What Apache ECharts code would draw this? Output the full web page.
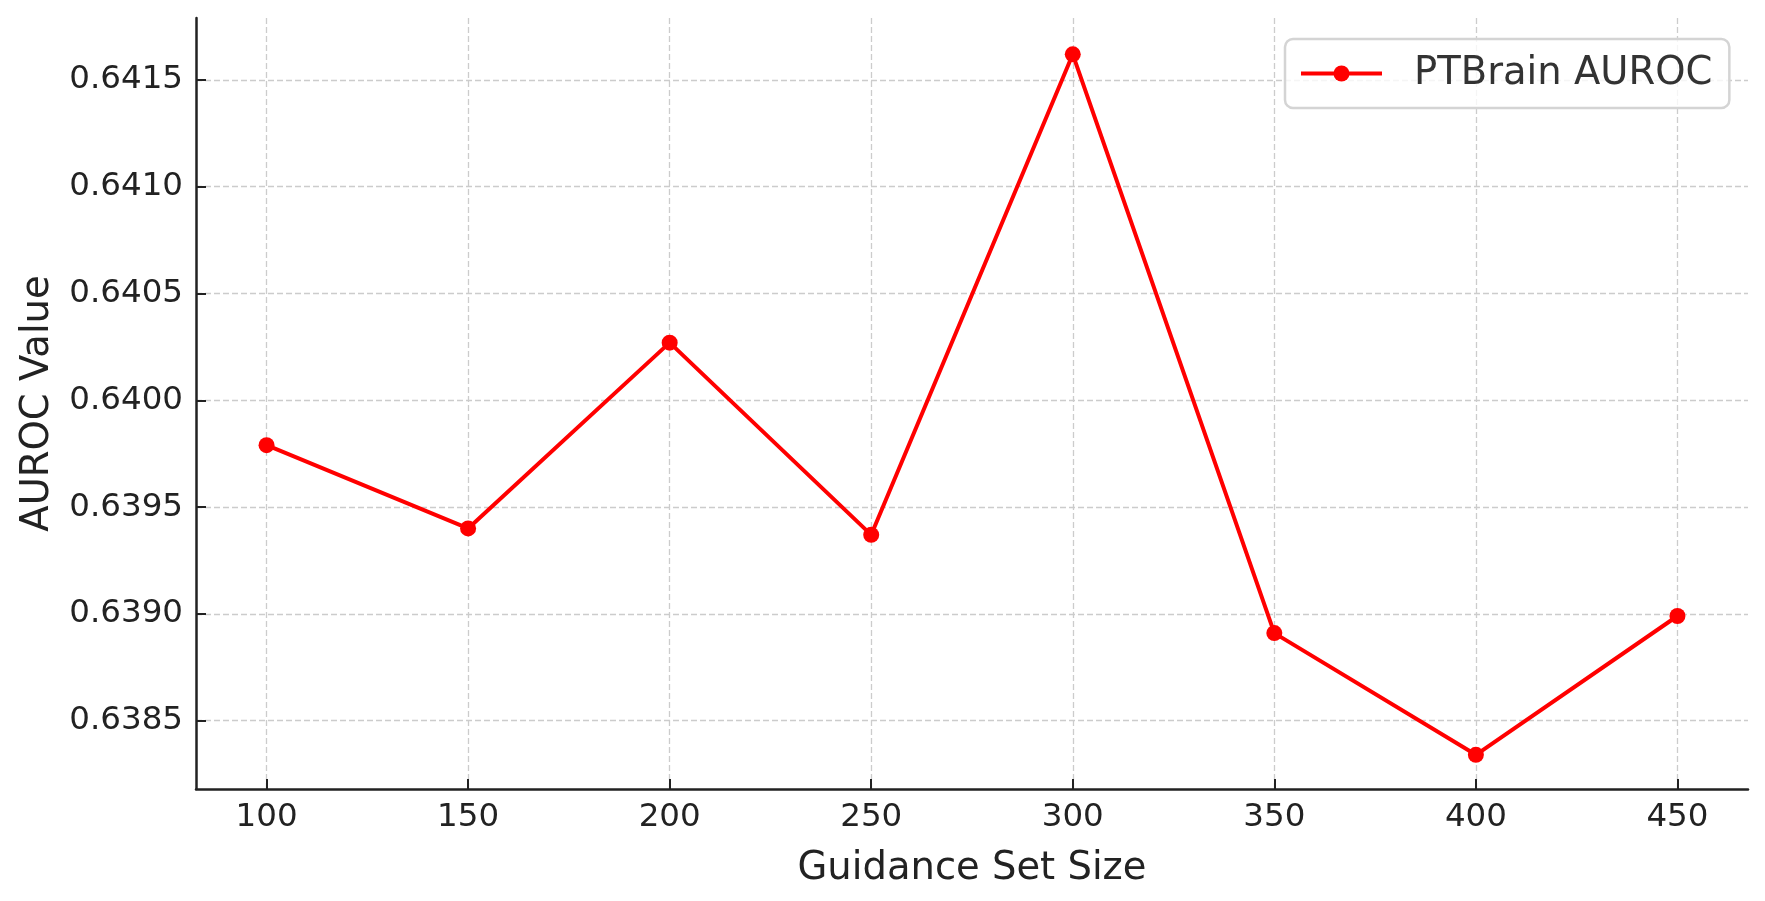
<!DOCTYPE html>
<html>
  <head>
    <meta charset="utf-8" />
    <title>PTBrain AUROC</title>
    <script src="https://cdn.jsdelivr.net/npm/echarts@6.0.0/dist/echarts.min.js"></script>
  </head>
  <body style="margin: 0">
    <div id="main" style="width: 1765px; height: 901px"></div>
    <script type="text/javascript">
      var myChart = echarts.init(document.getElementById("main"));

      // data
      var guidanceSizes = [100, 150, 200, 250, 300, 350, 400, 450];
      var aurocValues = [0.63979, 0.63940, 0.64027, 0.63937, 0.64162, 0.63891, 0.63834, 0.63899];
      var xTicks = [100, 150, 200, 250, 300, 350, 400, 450];
      var yTicks = [0.6385, 0.639, 0.6395, 0.64, 0.6405, 0.641, 0.6415];

      var font = "DejaVu Sans";
      var gridLine = { show: true, lineStyle: { color: "#cccccc", width: 1.3, type: [6, 3] } };

      var option = {
        animation: false,
        grid: { left: 196, right: 17, top: 18, bottom: 112 },
        legend: {
          data: ["PTBrain AUROC"],
          left: 1285,
          top: 39,
          padding: [14, 17, 14, 14],
          backgroundColor: "rgba(255,255,255,0.8)",
          borderColor: "#d4d4d4",
          borderWidth: 2.5,
          borderRadius: 8,
          itemWidth: 81,
          itemHeight: 20,
          lineStyle: { width: 4 },
          textStyle: { fontFamily: font, fontSize: 38.5, color: "#333", lineHeight: 41, padding: [0, 0, 0, 27] }
        },
        xAxis: {
          type: "value",
          min: 82.5,
          max: 467.5,
          name: "Guidance Set Size",
          nameLocation: "middle",
          nameGap: 60,
          nameTextStyle: { fontFamily: font, fontSize: 38.5, color: "#222" },
          axisLine: { lineStyle: { color: "#222", width: 2.5 } },
          axisTick: { inside: true, length: 10, customValues: xTicks, lineStyle: { color: "#222", width: 2 } },
          axisLabel: { customValues: xTicks, fontFamily: font, fontSize: 32.5, color: "#222", margin: 12 },
          splitLine: gridLine
        },
        yAxis: {
          type: "value",
          min: 0.63818,
          max: 0.64179,
          name: "AUROC Value",
          nameLocation: "middle",
          nameGap: 139,
          nameTextStyle: { fontFamily: font, fontSize: 38.5, color: "#222" },
          axisLine: { show: true, lineStyle: { color: "#222", width: 2.5 } },
          axisTick: { show: true, inside: true, length: 10, customValues: yTicks, lineStyle: { color: "#222", width: 2 } },
          axisLabel: {
            customValues: yTicks,
            fontFamily: font,
            fontSize: 32.5,
            color: "#222",
            margin: 13,
            formatter: function (v) { return v.toFixed(4); }
          },
          splitLine: gridLine
        },
        series: [
          {
            name: "PTBrain AUROC",
            type: "line",
            data: guidanceSizes.map(function (x, i) { return [x, aurocValues[i]]; }),
            symbol: "circle",
            symbolSize: 16,
            itemStyle: { color: "#ff0000" },
            lineStyle: { color: "#ff0000", width: 4 }
          }
        ]
      };

      myChart.setOption(option);
    </script>
  </body>
</html>
